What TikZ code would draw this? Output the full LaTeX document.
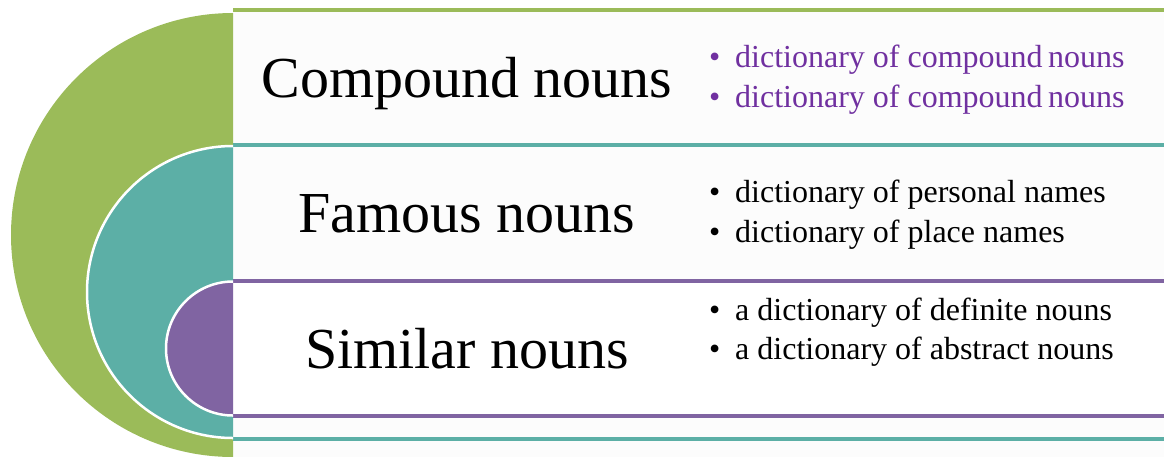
\documentclass[tikz,border=0pt]{standalone}
\usepackage{fontspec}
\setmainfont{Liberation Serif}
\definecolor{cgreen}{HTML}{9BBB59}
\definecolor{cteal}{HTML}{5CAFA6}
\definecolor{cpurple}{HTML}{8064A2}
\definecolor{ctext}{HTML}{7030A0}
\definecolor{boxfill}{HTML}{FCFCFC}
\begin{document}
\begin{tikzpicture}[x=1pt,y=-1pt,
  title/.style={anchor=base,inner sep=0pt,font=\fontsize{58}{60}\selectfont},
  item/.style={anchor=base west,inner sep=0pt,font=\fontsize{32}{34}\selectfont},
  bul/.style={anchor=base west,inner sep=0pt,font=\fontsize{32}{34}\selectfont},
  band/.style={line width=4.2pt}]
\useasboundingbox (0,0) rectangle (1164,456);
% green level
\fill[boxfill] (233,10) rectangle (1164,470);
\draw[band,cgreen] (233,10) -- (1164,10);
\begin{scope}
  \clip (0,0) rectangle (233,456);
  \fill[cgreen] (233,235) circle[radius=222];
\end{scope}
% teal level
\fill[boxfill] (233,145) rectangle (1164,439);
\draw[band,cteal] (233,145) -- (1164,145);
\draw[band,cteal] (233,439) -- (1164,439);
\begin{scope}
  \clip (0,0) rectangle (233,456);
  \filldraw[fill=cteal,draw=white,line width=2.5pt] (233,292) circle[radius=146];
\end{scope}
% purple level
\fill[white] (233,281) rectangle (1164,416);
\draw[band,cpurple] (233,281) -- (1164,281);
\draw[band,cpurple] (233,416) -- (1164,416);
\begin{scope}
  \clip (0,0) rectangle (233,456);
  \filldraw[fill=cpurple,draw=white,line width=2.5pt] (233,348.5) circle[radius=67];
\end{scope}
% titles
\node[title] (t1) at (467,97) {Compound nouns};
\node[title] (t2) at (467,232) {Famous nouns};
\node[title] (t3) at (467,368) {Similar nouns};
% items
\node[bul,text=ctext] (d11) at (709,67) {•};
\node[item,text=ctext] (i11) at (735,67) {dictionary of compound\,nouns};
\node[bul,text=ctext] (d12) at (709,107) {•};
\node[item,text=ctext] (i12) at (735,107) {dictionary of compound\,nouns};
\node[bul] (d21) at (709,202) {•};
\node[item] (i21) at (735,202) {dictionary of personal names};
\node[bul] (d22) at (709,242) {•};
\node[item] (i22) at (735,242) {dictionary of place names};
\node[bul] (d31) at (709,320) {•};
\node[item] (i31) at (735,320) {a dictionary of definite nouns};
\node[bul] (d32) at (709,359) {•};
\node[item] (i32) at (735,359) {a dictionary of abstract nouns};
\end{tikzpicture}
\end{document}
